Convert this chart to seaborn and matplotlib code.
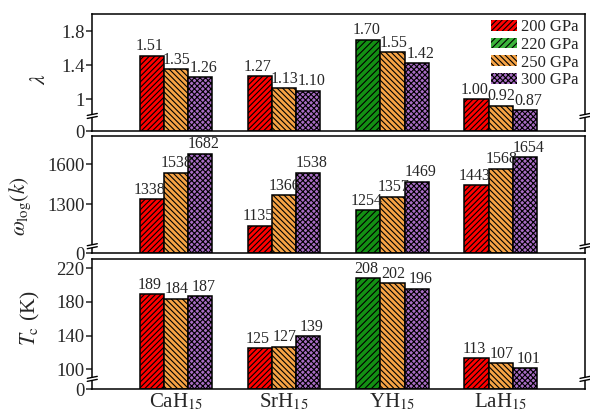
import numpy as np
import pandas as pd
import matplotlib
matplotlib.use("Agg")
import matplotlib.pyplot as plt
import seaborn as sns
from matplotlib.patches import Patch, Polygon
from matplotlib.lines import Line2D

# ---- data -------------------------------------------------------------
compounds = [r"CaH$_{15}$", r"SrH$_{15}$", r"YH$_{15}$", r"LaH$_{15}$"]
low_pressure = [200, 200, 220, 200]          # GPa of the first bar in each group
pressure_labels = ["200 GPa", "220 GPa", "250 GPa", "300 GPa"]

lam_low = [1.51, 1.27, 1.70, 1.00]
lam_250 = [1.35, 1.13, 1.55, 0.92]
lam_300 = [1.26, 1.10, 1.42, 0.87]

wlog_low = [1338, 1135, 1254, 1443]
wlog_250 = [1538, 1366, 1357, 1568]
wlog_300 = [1682, 1538, 1469, 1654]

tc_low = [189, 125, 208, 113]
tc_250 = [184, 127, 202, 107]
tc_300 = [187, 139, 196, 101]

# ---- style ------------------------------------------------------------
sns.set_style("ticks")
plt.rcParams["font.family"] = ["Liberation Serif", "DejaVu Serif"]
plt.rcParams["mathtext.fontset"] = "stix"
plt.rcParams["hatch.linewidth"] = 0.8
plt.rcParams["axes.linewidth"] = 1.1

colors = {200: "#ff0000", 220: "#139013", 250: "#f6a345", 300: "#a86cc4"}
legend_colors = {200: "#ff0000", 220: "#3cb43c", 250: "#f6a345", 300: "#a86cc4"}
hatches = {200: "//////", 220: "/////", 250: "\\" * 6, 300: "xxxxxx"}

slots = ["low", "250", "300"]
# small sideways nudge (points) of the value labels so neighbours do not collide
label_nudge = {"low": -1.5, "250": 0.5, "300": 2.5}


def long_table(low, p250, p300):
    rows = []
    for j, c in enumerate(compounds):
        for s, v, p in zip(slots, (low[j], p250[j], p300[j]),
                           (low_pressure[j], 250, 300)):
            rows.append({"compound": c, "slot": s, "value": v, "pressure": p})
    return pd.DataFrame(rows)


def broken_scale(lo, b):
    """Linear above b; the span 0..b is squeezed into lo..b."""
    def fwd(v):
        v = np.asarray(v, dtype=float)
        return np.where(v >= b, v, lo + v * (b - lo) / b)

    def inv(u):
        u = np.asarray(u, dtype=float)
        return np.where(u >= b, u, (u - lo) * b / (b - lo))
    return fwd, inv


fig = plt.figure(figsize=(5.9, 4.15), dpi=100)
ax1 = fig.add_axes([0.1564, 0.6843, 0.8351, 0.2819])
ax2 = fig.add_axes([0.1564, 0.3896, 0.8351, 0.2827])
ax3 = fig.add_axes([0.1564, 0.0619, 0.8351, 0.3128])

panels = [
    dict(ax=ax1, df=long_table(lam_low, lam_250, lam_300), fmt="%.2f",
         lo=0.624, brk=0.80, top=2.0,
         ticks=[0, 1, 1.4, 1.8], ticklabels=["0", "1", "1.4", "1.8"],
         ylabel=r"$\lambda$", lab_xy=(-0.086, 0.44)),
    dict(ax=ax2, df=long_table(wlog_low, wlog_250, wlog_300), fmt="%d",
         lo=927, brk=980, top=1815,
         ticks=[0, 1300, 1600], ticklabels=["0", "1300", "1600"],
         ylabel=r"$\omega_{\mathrm{log}}(k)$", lab_xy=(-0.12, 0.40)),
    dict(ax=ax3, df=long_table(tc_low, tc_250, tc_300), fmt="%d",
         lo=76.2, brk=88.5, top=230.5,
         ticks=[0, 100, 140, 180, 220],
         ticklabels=["0", "100", "140", "180", "220"],
         ylabel=r"$T_{\mathrm{c}}$ (K)", lab_xy=(-0.103, 0.55)),
]

for pn in panels:
    ax = pn["ax"]
    df = pn["df"]
    sns.barplot(data=df, x="compound", y="value", hue="slot",
                order=compounds, hue_order=slots, dodge=True, width=0.67,
                saturation=1, edgecolor="black", linewidth=1.1,
                legend=False, errorbar=None, ax=ax)
    for s, cont in zip(slots, ax.containers):
        sub = df[df["slot"] == s].set_index("compound").loc[compounds]
        for bar, p in zip(cont.patches, sub["pressure"]):
            bar.set_facecolor(colors[p])
            bar.set_hatch(hatches[p])
            bar.set_edgecolor("black")
        texts = ax.bar_label(cont, fmt=pn["fmt"], padding=1, fontsize=11.5)
        for t in texts:
            t.xyann = (label_nudge[s], 1)

    fwd, inv = broken_scale(pn["lo"], pn["brk"])
    ax.set_yscale("function", functions=(fwd, inv))
    ax.set_ylim(0, pn["top"])
    ax.set_xlim(-0.773, 3.778)
    ax.set_yticks(pn["ticks"])
    ax.set_yticklabels(pn["ticklabels"])
    ax.minorticks_off()
    ax.set_xlabel("")
    ax.set_ylabel(pn["ylabel"], fontsize=15.5)
    ax.yaxis.set_label_coords(*pn["lab_xy"])
    ax.tick_params(axis="y", direction="out", length=4, width=1.1,
                   labelsize=13.5, pad=1.5)
    ax.tick_params(axis="x", length=0, labelsize=15, pad=2)
    for sp in ax.spines.values():
        sp.set_visible(True)
        sp.set_color("black")

ax1.set_xticklabels([])
ax2.set_xticklabels([])

# legend: one entry per pressure
handles = [Patch(facecolor=legend_colors[p], hatch=hatches[p], edgecolor="black",
                 linewidth=0.0)
           for p in (200, 220, 250, 300)]
ax1.legend(handles, pressure_labels, loc="upper right",
           bbox_to_anchor=(0.988, 0.955), frameon=False, fontsize=12,
           handlelength=1.55, handleheight=0.6, handletextpad=0.25,
           labelspacing=0.1, borderpad=0, borderaxespad=0)

# axis-break marks on both vertical spines
fig.canvas.draw()
inv_fig = fig.transFigure.inverted()
for pn in panels:
    ax = pn["ax"]
    yb = ax.transData.transform((0, pn["brk"]))[1]
    for xa in (0, 1):
        xb = ax.transAxes.transform((xa, 0))[0]
        up = [(xb - 5, yb + 0.6), (xb + 5, yb + 2.6)]
        dn = [(xb - 5, yb - 2.4), (xb + 5, yb - 0.4)]
        gap = Polygon(inv_fig.transform(np.array(up + dn[::-1])),
                      closed=True, facecolor="white", edgecolor="none",
                      transform=fig.transFigure, zorder=5)
        fig.add_artist(gap)
        for seg in (up, dn):
            pts = inv_fig.transform(np.array(seg))
            fig.add_artist(Line2D(pts[:, 0], pts[:, 1], color="black", lw=1.0,
                                  transform=fig.transFigure, zorder=6))

fig.savefig("out.png", dpi=100)
